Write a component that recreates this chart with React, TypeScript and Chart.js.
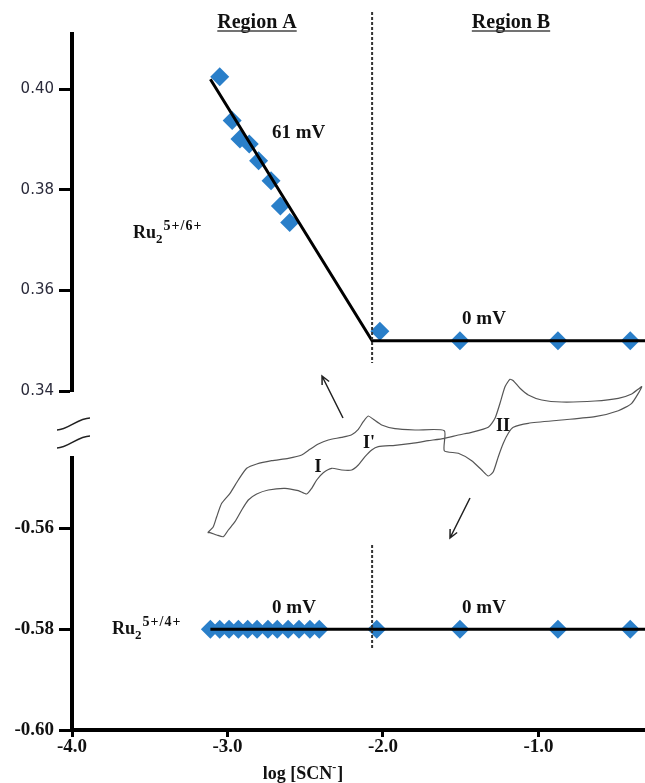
import React, { useEffect, useRef } from 'react';
import { Chart, registerables } from 'chart.js';
Chart.register(...registerables);

// ---------------- data ----------------
const xTicks = [-4, -3, -2, -1];
const xMin = -4.0;
const xMax = -0.315;

const topYTicks = [0.34, 0.36, 0.38, 0.4];
const topYMin = 0.34;
const topYMax = 0.411;

const bottomYTicks = [-0.6, -0.58, -0.56];
const bottomYMin = -0.6;
const bottomYMax = -0.546;

const regionBoundary = -2.07;

// Ru2 5+/6+ couple (upper panel)
const oxX = [-3.05, -2.97, -2.92, -2.86, -2.8, -2.72, -2.66, -2.6, -2.02, -1.505, -0.875, -0.41];
const oxY = [0.4025, 0.3938, 0.3901, 0.3891, 0.3858, 0.3818, 0.3768, 0.3735, 0.3519, 0.35, 0.35, 0.35];
const oxFitX = [-3.11, -2.07, -0.315];
const oxFitY = [0.402, 0.35, 0.35];

// Ru2 5+/4+ couple (lower panel)
const redX = [-3.11, -3.05, -2.99, -2.93, -2.87, -2.81, -2.74, -2.68, -2.61, -2.54, -2.47, -2.41, -2.04, -1.505, -0.875, -0.41];
const redY = [-0.58, -0.58, -0.58, -0.58, -0.58, -0.58, -0.58, -0.58, -0.58, -0.58, -0.58, -0.58, -0.58, -0.58, -0.58, -0.58];
const redFitX = [-3.11, -0.315];
const redFitY = [-0.58, -0.58];

// inset cyclic voltammogram (arbitrary units)
const cvPotential = [12.7,18.3,21.7,26.7,35,43.3,51.7,61.7,76.7,93.3,106.7,115,123.3,133.3,146.7,156.7,163.3,168.3,173.3,178.3,186.7,200,220,249.3,249.3,263.3,276.7,286.7,293.3,298.3,303.3,308.3,313.3,318.3,333.3,366.7,400,423.3,436.7,446.7,436.7,423.3,400,366.7,346.7,333.3,325,318.3,315,310,305,300,293.3,276.7,263.3,249.3,233.3,216.7,200,183.3,176.7,170,163.3,156.7,146.7,136.7,128.3,121.7,116.7,111.7,103.3,90,73.3,61.7,53.3,46.7,40,33.3,28.3,21.7,15,12.7];
const cvCurrent = [-192.7,-186.7,-176.7,-163.3,-153.3,-140,-128.3,-124,-120.7,-118.3,-115,-109.3,-104,-100,-97.3,-94.7,-89.3,-81.7,-76,-79.3,-85,-88.7,-90,-90.7,-110.7,-113.3,-120.7,-130,-136,-131.7,-116.7,-103.3,-93.3,-87.3,-83.3,-80,-76.7,-70.7,-63.3,-46.7,-54,-58.3,-61,-62,-60,-55,-48.3,-40.7,-39.3,-46.7,-63.3,-78.3,-87.3,-92.3,-95,-98.3,-100.7,-103.3,-105.3,-106.7,-110,-116.7,-125,-130,-130,-128.3,-132.7,-140,-148.3,-154,-150.7,-148.3,-150,-154,-160,-170,-181.7,-190,-196.7,-195,-192.7,-192.7];

// ---------------- layout / style ----------------
const W = 645;
const H = 783;
const AXIS_LEFT = 72;
const SERIF = '"Liberation Serif", "Times New Roman", serif';
const BLUE = '#2a7fc9';
const INK = '#111';

function pts(xs: number[], ys: number[]) {
  return xs.map((x, i) => ({ x, y: ys[i] }));
}

function txt(ctx: CanvasRenderingContext2D, s: string, x: number, y: number, font: string, align: CanvasTextAlign = 'left') {
  ctx.save();
  ctx.fillStyle = INK;
  ctx.font = font;
  ctx.textAlign = align;
  ctx.textBaseline = 'alphabetic';
  ctx.fillText(s, x, y);
  ctx.restore();
}

function drawRu(ctx: CanvasRenderingContext2D, x: number, y: number, sup: string) {
  ctx.save();
  ctx.fillStyle = INK;
  ctx.textAlign = 'left';
  ctx.textBaseline = 'alphabetic';
  ctx.font = `bold 18px ${SERIF}`;
  ctx.fillText('Ru', x, y);
  const w = ctx.measureText('Ru').width;
  ctx.font = `bold 13px ${SERIF}`;
  ctx.fillText('2', x + w, y + 5);
  const w2 = ctx.measureText('2').width;
  ctx.font = `bold 14px ${SERIF}`;
  (ctx as any).letterSpacing = '1px';
  ctx.fillText(sup, x + w + w2 + 1, y - 8);
  ctx.restore();
}

function dashedV(ctx: CanvasRenderingContext2D, x: number, y1: number, y2: number) {
  ctx.save();
  ctx.strokeStyle = '#333';
  ctx.lineWidth = 2;
  ctx.setLineDash([3, 2]);
  ctx.beginPath();
  ctx.moveTo(x, y1);
  ctx.lineTo(x, y2);
  ctx.stroke();
  ctx.restore();
}

function underlined(ctx: CanvasRenderingContext2D, s: string, cx: number, y: number) {
  const font = `bold 20px ${SERIF}`;
  txt(ctx, s, cx, y, font, 'center');
  ctx.save();
  ctx.font = font;
  const w = ctx.measureText(s).width;
  ctx.strokeStyle = '#444';
  ctx.lineWidth = 1.5;
  ctx.beginPath();
  ctx.moveTo(cx - w / 2, y + 3);
  ctx.lineTo(cx + w / 2, y + 3);
  ctx.stroke();
  ctx.restore();
}

function arrow(ctx: CanvasRenderingContext2D, x1: number, y1: number, x2: number, y2: number) {
  ctx.save();
  ctx.strokeStyle = '#222';
  ctx.lineWidth = 1.5;
  ctx.beginPath();
  ctx.moveTo(x1, y1);
  ctx.lineTo(x2, y2);
  const a = Math.atan2(y2 - y1, x2 - x1);
  const L = 9;
  ctx.moveTo(x2 - L * Math.cos(a - 0.45), y2 - L * Math.sin(a - 0.45));
  ctx.lineTo(x2, y2);
  ctx.lineTo(x2 - L * Math.cos(a + 0.45), y2 - L * Math.sin(a + 0.45));
  ctx.stroke();
  ctx.restore();
}

const yAxisCommon = (ticks: number[], min: number, max: number, font: any, color: string) => ({
  type: 'linear',
  min,
  max,
  afterFit: (s: any) => { s.width = AXIS_LEFT; },
  afterBuildTicks: (s: any) => { s.ticks = ticks.map((v) => ({ value: v })); },
  border: { display: true, color: '#000', width: 4 },
  grid: { display: true, drawOnChartArea: false, drawTicks: true, tickLength: 13, tickWidth: 3, tickColor: '#000' },
  ticks: { padding: 5, font, color, callback: (v: any) => Number(v).toFixed(2) },
});

export default function App() {
  const topRef = useRef<HTMLCanvasElement>(null);
  const botRef = useRef<HTMLCanvasElement>(null);
  const cvRef = useRef<HTMLCanvasElement>(null);

  useEffect(() => {
    document.body.style.margin = '0';
    document.body.style.overflow = 'hidden';

    const topPlugin = {
      id: 'topAnno',
      afterDraw(chart: any) {
        const ctx = chart.ctx as CanvasRenderingContext2D;
        const xs = chart.scales.x;
        dashedV(ctx, xs.getPixelForValue(regionBoundary), 12, 363);
        underlined(ctx, 'Region A', 257, 28);
        underlined(ctx, 'Region B', 511, 28);
        txt(ctx, '61 mV', 272, 138, `bold 19px ${SERIF}`);
        txt(ctx, '0 mV', 484, 324, `bold 19px ${SERIF}`, 'center');
        drawRu(ctx, 133, 238, '5+/6+');
      },
    };

    const top = new Chart(topRef.current!, {
      type: 'scatter',
      data: {
        datasets: [
          { data: pts(oxFitX, oxFitY), showLine: true, borderColor: '#000', borderWidth: 3, pointRadius: 0, order: 0, clip: false } as any,
          { data: pts(oxX, oxY), pointStyle: 'rectRot', pointRadius: 9.5, backgroundColor: BLUE, borderWidth: 0, order: 1, clip: false } as any,
        ],
      },
      options: {
        responsive: false,
        animation: false,
        layout: { autoPadding: false, padding: { top: 34, bottom: H - 391, left: 0, right: 0 } },
        plugins: { legend: { display: false }, tooltip: { enabled: false } },
        scales: {
          x: { type: 'linear', min: xMin, max: xMax, display: false },
          y: yAxisCommon(topYTicks, topYMin, topYMax, { family: '"DejaVu Sans", sans-serif', size: 15 }, '#2a2a3a') as any,
        },
      },
      plugins: [topPlugin],
    });

    const botPlugin = {
      id: 'botAnno',
      afterDraw(chart: any) {
        const ctx = chart.ctx as CanvasRenderingContext2D;
        const xs = chart.scales.x;
        dashedV(ctx, xs.getPixelForValue(regionBoundary), 545, 648);
        txt(ctx, '0 mV', 294, 613, `bold 19px ${SERIF}`, 'center');
        txt(ctx, '0 mV', 484, 613, `bold 19px ${SERIF}`, 'center');
        drawRu(ctx, 112, 634, '5+/4+');
        // axis break marks
        ctx.save();
        ctx.strokeStyle = '#222';
        ctx.lineWidth = 1.5;
        for (const dy of [0, 18]) {
          ctx.beginPath();
          ctx.moveTo(57, 430 + dy);
          ctx.bezierCurveTo(68, 430 + dy, 78, 418 + dy, 90, 418 + dy);
          ctx.stroke();
        }
        ctx.restore();
        // x axis title
        ctx.save();
        ctx.fillStyle = INK;
        ctx.textBaseline = 'alphabetic';
        ctx.font = `bold 18px ${SERIF}`;
        const a = 'log [SCN';
        const b = ']';
        const wa = ctx.measureText(a).width;
        const wb = ctx.measureText(b).width;
        const wm = 5;
        const x0 = 303 - (wa + wm + wb) / 2;
        ctx.fillText(a, x0, 779);
        ctx.font = `bold 12px ${SERIF}`;
        ctx.fillText('-', x0 + wa, 771);
        ctx.font = `bold 18px ${SERIF}`;
        ctx.fillText(b, x0 + wa + wm, 779);
        ctx.restore();
      },
    };

    const bot = new Chart(botRef.current!, {
      type: 'scatter',
      data: {
        datasets: [
          { data: pts(redFitX, redFitY), showLine: true, borderColor: '#000', borderWidth: 3, pointRadius: 0, order: 0, clip: false } as any,
          { data: pts(redX, redY), pointStyle: 'rectRot', pointRadius: 9.5, backgroundColor: BLUE, borderWidth: 0, order: 1, clip: false } as any,
        ],
      },
      options: {
        responsive: false,
        animation: false,
        layout: { autoPadding: false, padding: { top: 458, bottom: 0, left: 0, right: 0 } },
        plugins: { legend: { display: false }, tooltip: { enabled: false } },
        scales: {
          x: {
            type: 'linear',
            min: xMin,
            max: xMax,
            afterFit: (s: any) => { s.height = H - 730; },
            afterBuildTicks: (s: any) => { s.ticks = xTicks.map((v) => ({ value: v })); },
            border: { display: true, color: '#000', width: 4 },
            grid: { display: true, drawOnChartArea: false, drawTicks: true, tickLength: 7, tickWidth: 3, tickColor: '#000' },
            ticks: { padding: -1, maxRotation: 0, font: { family: SERIF, size: 19, weight: 'bold' }, color: INK, callback: (v: any) => Number(v).toFixed(1) },
          } as any,
          y: yAxisCommon(bottomYTicks, bottomYMin, bottomYMax, { family: SERIF, size: 19, weight: 'bold' }, INK) as any,
        },
      },
      plugins: [botPlugin],
    });

    const cvPlugin = {
      id: 'cvAnno',
      afterDraw(chart: any) {
        const ctx = chart.ctx as CanvasRenderingContext2D;
        arrow(ctx, 343, 418, 322, 376);
        arrow(ctx, 470, 498, 450, 538);
        txt(ctx, 'I', 318, 472, `bold 18px ${SERIF}`, 'center');
        txt(ctx, "I'", 369, 448, `bold 18px ${SERIF}`, 'center');
        txt(ctx, 'II', 503, 431, `bold 18px ${SERIF}`, 'center');
      },
    };

    const cv = new Chart(cvRef.current!, {
      type: 'scatter',
      data: {
        datasets: [
          { data: pts(cvPotential, cvCurrent), showLine: true, borderColor: '#555', borderWidth: 1.2, pointRadius: 0, tension: 0.2, clip: false } as any,
        ],
      },
      options: {
        responsive: false,
        animation: false,
        layout: { autoPadding: false, padding: { top: 340, bottom: H - 540, left: 195, right: 0 } },
        plugins: { legend: { display: false }, tooltip: { enabled: false } },
        scales: {
          x: { type: 'linear', min: 0, max: 450, display: false },
          y: { type: 'linear', min: -200, max: 0, display: false },
        },
      },
      plugins: [cvPlugin],
    });

    return () => {
      top.destroy();
      bot.destroy();
      cv.destroy();
    };
  }, []);

  const cs: React.CSSProperties = { position: 'absolute', left: 0, top: 0, display: 'block' };
  return (
    <div style={{ position: 'relative', width: W, height: H, background: '#fff', overflow: 'hidden' }}>
      <canvas ref={topRef} width={W} height={H} style={cs} />
      <canvas ref={botRef} width={W} height={H} style={cs} />
      <canvas ref={cvRef} width={W} height={H} style={cs} />
    </div>
  );
}
